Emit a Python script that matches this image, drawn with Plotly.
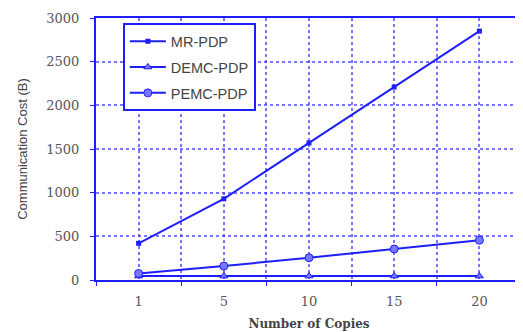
import plotly.graph_objects as go

copies = ["1", "5", "10", "15", "20"]
mr_pdp = [420, 930, 1570, 2210, 2850]
demc_pdp = [45, 45, 45, 45, 45]
pemc_pdp = [75, 160, 255, 355, 455]

BLUE = "rgb(30,30,255)"
GRID = "rgba(60,60,255,0.7)"
xpos = list(range(len(copies)))

fig = go.Figure()
fig.add_trace(go.Scatter(x=xpos, y=mr_pdp, name="MR-PDP", mode="lines+markers",
                         legendgroup="a",
                         line=dict(color=BLUE, width=2),
                         marker=dict(symbol="square", size=5, color=BLUE)))
fig.add_trace(go.Scatter(x=xpos, y=demc_pdp, name="DEMC-PDP", mode="lines+markers",
                         legendgroup="b",
                         line=dict(color=BLUE, width=2),
                         marker=dict(symbol="triangle-up", size=7, color="rgba(120,120,255,1)",
                                     line=dict(color=BLUE, width=1))))
fig.add_trace(go.Scatter(x=xpos, y=pemc_pdp, name="PEMC-PDP", mode="lines+markers",
                         legendgroup="c",
                         line=dict(color=BLUE, width=2),
                         marker=dict(symbol="circle", size=8, color="rgba(120,120,255,1)",
                                     line=dict(color=BLUE, width=1))))

fig.update_layout(
    width=515, height=324,
    margin=dict(l=88, r=1, t=10, b=52),
    paper_bgcolor="white", plot_bgcolor="white",
    showlegend=True,
    legend=dict(x=0.063, y=0.98, xanchor="left", yanchor="top",
                bordercolor=BLUE, borderwidth=2, bgcolor="white",
                font=dict(family="Liberation Sans", size=14.5, color="#444"),
                itemwidth=36, tracegroupgap=4),
    xaxis=dict(range=[-0.5, 4.5], tickvals=xpos, ticktext=copies,
               automargin=False,
               showgrid=True, gridcolor=GRID, griddash="dot", gridwidth=1.5,
               showline=True, linecolor=BLUE, linewidth=2, mirror=True,
               zeroline=False, ticks="", ticklabelstandoff=8,
               minor=dict(tick0=-0.5, dtick=1, showgrid=True, gridcolor=GRID,
                          griddash="dot", gridwidth=1.5, ticks="outside",
                          ticklen=4, tickcolor=BLUE),
               tickfont=dict(family="DejaVu Serif", size=13, color="#555"),
               title=dict(text="<b>Number of Copies</b>", standoff=12,
                          font=dict(family="DejaVu Serif", size=12, color="#444"))),
    yaxis=dict(range=[0, 3000], dtick=500,
               automargin=False,
               showgrid=True, gridcolor=GRID, griddash="dot", gridwidth=1.5,
               showline=True, linecolor=BLUE, linewidth=2, mirror=True,
               zeroline=False, ticks="outside", ticklen=4, tickcolor=BLUE,
               ticklabelstandoff=8,
               tickfont=dict(family="DejaVu Serif", size=13, color="#555"),
               title=dict(text="Communication Cost (B)", standoff=16,
                          font=dict(family="Liberation Sans", size=13, color="#444"))),
)

fig.write_html("out.html")
